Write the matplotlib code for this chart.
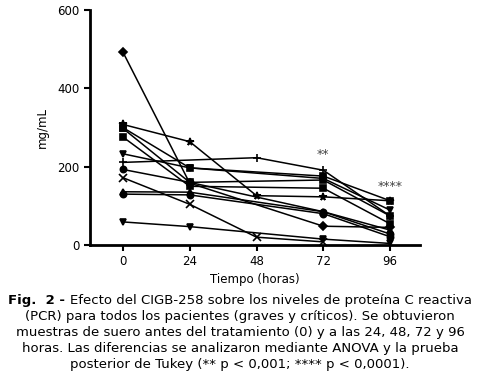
import numpy as np
import matplotlib
matplotlib.use("Agg")
import matplotlib.pyplot as plt

# tiempo de muestreo (horas)
horas = [0, 24, 48, 72, 96]
nan = np.nan

# PCR (mg/mL) por paciente
pac_rombo = [493, 158, nan, 48, 45]
pac_estrella = [308, 264, 126, 123, 113]
pac_cuad1 = [300, 197, nan, 176, 113]
pac_cuad2 = [298, 160, nan, 166, 74]
pac_cuad3 = [276, 150, nan, 145, 54]
pac_tri_inv1 = [233, 197, nan, 170, 89]
pac_mas = [211, nan, 223, 191, 74]
pac_circ1 = [193, 160, nan, 85, 28]
pac_cruz = [172, 104, 20, 8, nan]
pac_tri = [136, 135, nan, 85, 38]
pac_circ2 = [130, 128, nan, 80, 21]
pac_tri_inv2 = [59, 47, nan, 15, 4]

series = [
    (pac_rombo, "D"), (pac_estrella, "*"), (pac_cuad1, "s"), (pac_cuad2, "s"),
    (pac_cuad3, "s"), (pac_tri_inv1, "v"), (pac_mas, "+"), (pac_circ1, "o"),
    (pac_cruz, "x"), (pac_tri, "^"), (pac_circ2, "o"), (pac_tri_inv2, "v"),
]

fig = plt.figure(figsize=(4.8, 3.82), dpi=100)
ax = fig.add_axes([0.1875, 0.3586, 0.6875, 0.615])

for vals, mk in series:
    v = np.array(vals, dtype=float)
    ok = ~np.isnan(v)
    x = np.array(horas)[ok]
    ax.plot(x, v[ok], color="black", lw=1.1, marker=mk, ms=4.5 if mk not in "+x*" else 5.5,
            mew=1.2, mfc="black", mec="black", clip_on=False)

ax.set_xlim(-11.8, 106.7)
ax.set_ylim(0, 600)
ax.set_xticks(horas)
ax.set_yticks([0, 200, 400, 600])
for s in ["top", "right"]:
    ax.spines[s].set_visible(False)
for s in ["left", "bottom"]:
    ax.spines[s].set_linewidth(2)
ax.tick_params(direction="out", length=4, width=1.5, labelsize=8.5)
ax.set_xlabel("Tiempo (horas)", fontsize=8.5, labelpad=3)
ax.set_ylabel("mg/mL", fontsize=8.5, labelpad=6)

ax.text(72, 232, "**", ha="center", va="center", fontsize=9, color="#444444")
ax.text(96, 150, "****", ha="center", va="center", fontsize=9, color="#444444")

# pie de figura
fs = 9.5
fig.canvas.draw()
r = fig.canvas.get_renderer()
t1 = fig.text(0, 0, "Fig.  2 - ", fontsize=fs, weight="bold", va="baseline")
t2 = fig.text(0, 0, "Efecto del CIGB-258 sobre los niveles de proteína C reactiva",
              fontsize=fs, va="baseline")
w1 = t1.get_window_extent(r).width
w2 = t2.get_window_extent(r).width
x0 = (480 - (w1 + w2)) / 2
y1 = 1 - 304 / 382
t1.set_position((x0 / 480, y1))
t2.set_position(((x0 + w1) / 480, y1))

resto = [
    "(PCR) para todos los pacientes (graves y críticos). Se obtuvieron",
    "muestras de suero antes del tratamiento (0) y a las 24, 48, 72 y 96",
    "horas. Las diferencias se analizaron mediante ANOVA y la prueba",
    "posterior de Tukey (** p < 0,001; **** p < 0,0001).",
]
for i, linea in enumerate(resto):
    fig.text(0.5, 1 - (304 + 16 * (i + 1)) / 382, linea, fontsize=fs, ha="center", va="baseline")

fig.savefig("out.png", dpi=100)
